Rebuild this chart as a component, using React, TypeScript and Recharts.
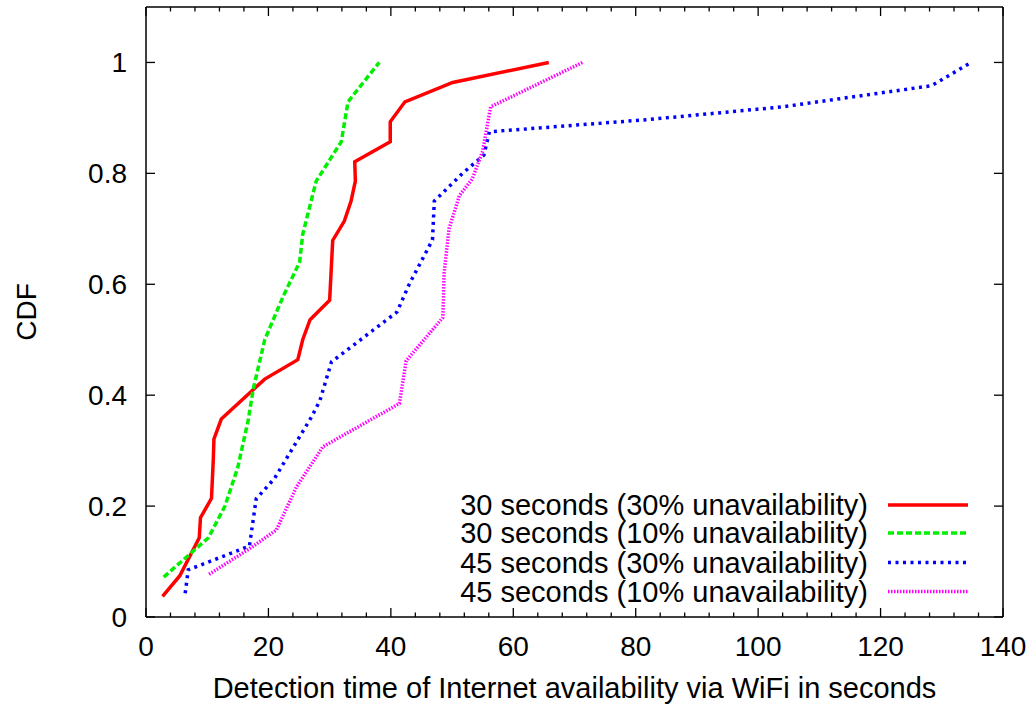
import { LineChart, Line, XAxis, YAxis, Legend } from "recharts";

// 30 seconds (30% unavailability)
const t30u30 = [2.7, 5.5, 8.7, 8.9, 10.7, 11.0, 11.1, 12.3, 19.4, 24.8, 25.6, 26.8, 30.0, 30.5, 32.4, 33.5, 34.2, 34.1, 39.9, 39.9, 42.3, 50.1, 65.8];
const cdf30u30 = [0.037, 0.074, 0.143, 0.179, 0.214, 0.286, 0.321, 0.357, 0.429, 0.464, 0.5, 0.536, 0.571, 0.679, 0.714, 0.75, 0.786, 0.821, 0.857, 0.893, 0.929, 0.964, 1.0];

// 30 seconds (10% unavailability)
const t30u10 = [2.9, 10.2, 12.9, 15.0, 16.7, 17.5, 19.4, 22.4, 25.1, 25.6, 27.8, 31.9, 33.0, 38.1];
const cdf30u10 = [0.072, 0.143, 0.2, 0.27, 0.355, 0.41, 0.5, 0.578, 0.64, 0.69, 0.786, 0.857, 0.929, 1.0];

// 45 seconds (30% unavailability)
const t45u30 = [6.4, 6.9, 16.9, 18.0, 21.0, 27.0, 28.4, 30.3, 41.0, 43.0, 46.8, 47.1, 51.7, 55.2, 56.1, 82.0, 104.0, 128.3, 134.8];
const cdf45u30 = [0.043, 0.085, 0.128, 0.213, 0.25, 0.36, 0.39, 0.46, 0.55, 0.6, 0.68, 0.75, 0.8, 0.833, 0.875, 0.897, 0.92, 0.958, 1.0];

// 45 seconds (10% unavailability)
const t45u10 = [10.3, 16.9, 21.3, 24.6, 28.9, 41.4, 42.5, 48.5, 48.7, 49.5, 51.2, 53.3, 55.0, 56.3, 71.3];
const cdf45u10 = [0.077, 0.123, 0.157, 0.235, 0.307, 0.385, 0.462, 0.54, 0.62, 0.7, 0.76, 0.79, 0.84, 0.92, 1.0];

const xMajorTicks = [0, 20, 40, 60, 80, 100, 120, 140];
const xAllTicks = [0, 4, 8, 12, 16, 20, 24, 28, 32, 36, 40, 44, 48, 52, 56, 60, 64, 68, 72, 76, 80, 84, 88, 92, 96, 100, 104, 108, 112, 116, 120, 124, 128, 132, 136, 140];
const yTicks = [0, 0.2, 0.4, 0.6, 0.8, 1];

const FONT = "'Liberation Sans', Arial, Helvetica, sans-serif";

const toPoints = (xs: number[], ys: number[]) => xs.map((x, i) => ({ x, y: ys[i] }));

const series = [
  { name: "30 seconds (30% unavailability)", data: toPoints(t30u30, cdf30u30), color: "#ff0000", dash: undefined as string | undefined, width: 3.5 },
  { name: "30 seconds (10% unavailability)", data: toPoints(t30u10, cdf30u10), color: "#00f000", dash: "6 3", width: 3.5 },
  { name: "45 seconds (30% unavailability)", data: toPoints(t45u30, cdf45u30), color: "#0000ff", dash: "3 4.5", width: 3.5 },
  { name: "45 seconds (10% unavailability)", data: toPoints(t45u10, cdf45u10), color: "#ff00ff", dash: "1.5 1.5", width: 3.5 },
];

function BottomTick({ x, y, payload }: any) {
  const major = xMajorTicks.includes(payload.value);
  return (
    <g>
      <line x1={x} x2={x} y1={y} y2={y - (major ? 9 : 4.5)} stroke="#000" strokeWidth={1.3} />
      {major && (
        <text x={x} y={y + 39} textAnchor="middle" fontSize={28} fontFamily={FONT} fill="#000">
          {payload.value}
        </text>
      )}
    </g>
  );
}

function TopTick({ x, y, payload }: any) {
  const major = xMajorTicks.includes(payload.value);
  return <line x1={x} x2={x} y1={y} y2={y + (major ? 9 : 4.5)} stroke="#000" strokeWidth={1.3} />;
}

function LeftTick({ x, y, payload }: any) {
  return (
    <g>
      <line x1={x} x2={x + 9} y1={y} y2={y} stroke="#000" strokeWidth={1.3} />
      <text x={x - 19} y={y} textAnchor="end" dominantBaseline="central" fontSize={28} fontFamily={FONT} fill="#000">
        {payload.value}
      </text>
    </g>
  );
}

function RightTick({ x, y }: any) {
  return <line x1={x} x2={x - 9} y1={y} y2={y} stroke="#000" strokeWidth={1.3} />;
}

function KeyBox() {
  const rowY = [17, 45, 74.5, 103.5];
  return (
    <svg width={540} height={120} style={{ display: "block" }}>
      {series.map((s, i) => (
        <g key={s.name}>
          <text x={428} y={rowY[i]} textAnchor="end" dominantBaseline="central" fontSize={29} fontFamily={FONT} fill="#000">
            {s.name}
          </text>
          <line x1={448} x2={528} y1={rowY[i]} y2={rowY[i]} stroke={s.color} strokeWidth={s.width} strokeDasharray={s.dash} />
        </g>
      ))}
    </svg>
  );
}

export default function App() {
  return (
    <div style={{ position: "absolute", left: 0, top: 0, background: "#fff" }}>
      <LineChart width={1036} height={704} margin={{ top: 0, right: 0, bottom: 0, left: 0 }}>
        <XAxis
          xAxisId="bottom"
          type="number"
          dataKey="x"
          domain={[0, 140]}
          ticks={xAllTicks}
          interval={0}
          height={87}
          tickSize={0}
          tickMargin={0}
          tickLine={false}
          tick={<BottomTick />}
          axisLine={{ stroke: "#000", strokeWidth: 1.5 }}
          allowDataOverflow
          label={{
            value: "Detection time of Internet availability via WiFi in seconds",
            position: "insideBottom",
            content: ({ viewBox }: any) => {
              const cx = viewBox.x + viewBox.width / 2;
              const by = viewBox.y + 81;
              return (
                <text x={cx} y={by} textAnchor="middle" fontSize={29} fontFamily={FONT} fill="#000">
                  Detection time of Internet availability via WiFi in seconds
                </text>
              );
            },
          }}
        />
        <XAxis
          xAxisId="top"
          orientation="top"
          type="number"
          dataKey="x"
          domain={[0, 140]}
          ticks={xAllTicks}
          interval={0}
          height={7}
          tickSize={0}
          tickMargin={0}
          tickLine={false}
          tick={<TopTick />}
          axisLine={{ stroke: "#000", strokeWidth: 1.5 }}
          allowDataOverflow
        />
        <YAxis
          yAxisId="left"
          type="number"
          domain={[0, 1.1]}
          ticks={yTicks}
          interval={0}
          width={146}
          tickSize={0}
          tickMargin={0}
          tickLine={false}
          tick={<LeftTick />}
          axisLine={{ stroke: "#000", strokeWidth: 1.5 }}
          allowDataOverflow
          label={{
            value: "CDF",
            position: "insideLeft",
            content: ({ viewBox }: any) => {
              const cx = viewBox.x + 26;
              const cy = viewBox.y + viewBox.height / 2;
              return (
                <text x={cx} y={cy} transform={`rotate(-90 ${cx} ${cy})`} textAnchor="middle" dominantBaseline="central" fontSize={28} fontFamily={FONT} fill="#000">
                  CDF
                </text>
              );
            },
          }}
        />
        <YAxis
          yAxisId="right"
          orientation="right"
          type="number"
          domain={[0, 1.1]}
          ticks={yTicks}
          interval={0}
          width={33}
          tickSize={0}
          tickMargin={0}
          tickLine={false}
          tick={<RightTick />}
          axisLine={{ stroke: "#000", strokeWidth: 1.5 }}
          allowDataOverflow
        />
        <Legend
          layout="vertical"
          align="center"
          verticalAlign="middle"
          content={() => <KeyBox />}
          wrapperStyle={{ position: "absolute", left: 440, top: 488, width: 540, height: 120 }}
        />
        {series.map((s) => (
          <Line
            key={s.name}
            xAxisId="bottom"
            yAxisId="left"
            data={s.data}
            dataKey="y"
            name={s.name}
            type="linear"
            stroke={s.color}
            strokeWidth={s.width}
            strokeDasharray={s.dash}
            dot={false}
            activeDot={false}
            isAnimationActive={false}
          />
        ))}
      </LineChart>
    </div>
  );
}
